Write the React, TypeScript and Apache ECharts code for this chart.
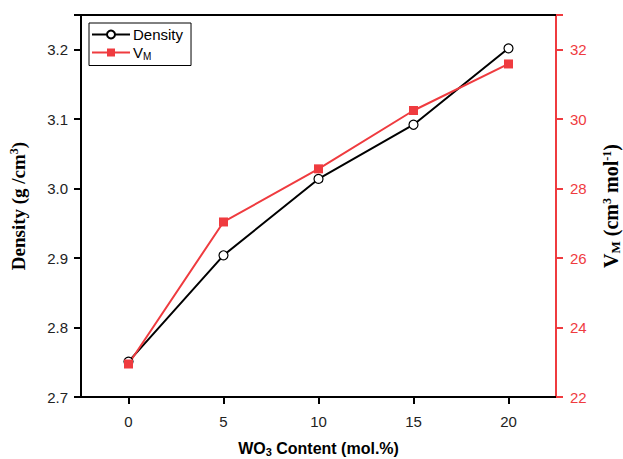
import React, { useEffect, useRef } from "react";
import * as echarts from "echarts";

// WO3 content (mol.%)
const woContent = [0, 5, 10, 15, 20];
// Density (g/cm3)
const density = [2.751, 2.904, 3.014, 3.092, 3.202];
// Molar volume V_M (cm3 mol-1)
const molarVolume = [22.95, 27.04, 28.57, 30.25, 31.59];
// Tick values shown on the bottom axis
const xTicks = [0, 5, 10, 15, 20];

const RED = "#ef3b3f";
const BLACK = "#000";

export default function App() {
  const ref = useRef<HTMLDivElement>(null);

  useEffect(() => {
    if (!ref.current) return;
    const chart = echarts.init(ref.current, undefined, { renderer: "svg" });

    const serif = "'Liberation Serif', 'Times New Roman', serif";
    const sans = "'Liberation Sans', Arial, sans-serif";

    chart.setOption({
      animation: false,
      backgroundColor: "#fff",
      grid: { left: 81, right: 67, top: 15, bottom: 62, containLabel: false, outerBoundsMode: "none" },
      legend: {
        orient: "vertical",
        left: 89,
        top: 23,
        itemWidth: 38,
        itemHeight: 10,
        itemGap: 3,
        padding: [4, 8, 4, 2],
        borderColor: "#000",
        borderWidth: 1,
        borderRadius: 0,
        data: ["Density", "VM"],
        formatter: (name: string) => (name === "VM" ? "{n|V}{s|M}" : "{n|" + name + "}"),
        textStyle: {
          fontFamily: sans,
          fontSize: 15,
          color: "#000",
          padding: [0, 0, 0, -2],
          rich: {
            n: { fontFamily: sans, fontSize: 15, color: "#000", lineHeight: 18 },
            s: { fontFamily: sans, fontSize: 10, color: "#000", verticalAlign: "bottom", lineHeight: 18, padding: [6, 0, 0, 0] },
          },
        },
      },
      xAxis: [
        {
          type: "value",
          min: -2.5,
          max: 22.5,
          position: "bottom",
          name: "{b|WO}{s|3}{b| Content (mol.%)}",
          nameLocation: "middle",
          nameGap: 41,
          nameTextStyle: {
            rich: {
              b: { fontFamily: sans, fontWeight: "bold", fontSize: 16, color: "#000", lineHeight: 20 },
              s: { fontFamily: sans, fontWeight: "bold", fontSize: 11, color: "#000", lineHeight: 18, padding: [8, 0, 0, 0] },
            },
          },
          axisLine: { onZero: false, lineStyle: { color: BLACK, width: 2 } },
          axisTick: { show: true, length: 7, customValues: xTicks, lineStyle: { color: BLACK, width: 2 } },
          axisLabel: {
            fontFamily: sans,
            fontSize: 15,
            color: "#222",
            margin: 17,
            customValues: xTicks,
          },
          splitLine: { show: false },
        },
        {
          type: "value",
          min: -2.5,
          max: 22.5,
          position: "top",
          axisLine: { onZero: false, lineStyle: { color: BLACK, width: 2 } },
          axisTick: { show: false },
          axisLabel: { show: false },
          splitLine: { show: false },
        },
      ],
      yAxis: [
        {
          type: "value",
          min: 2.7,
          max: 3.25,
          interval: 0.1,
          position: "left",
          name: "{b|Density (g /cm}{p|3}{b|)}",
          nameLocation: "middle",
          nameGap: 51,
          nameRotate: 90,
          nameTextStyle: {
            rich: {
              b: { fontFamily: serif, fontWeight: "bold", fontSize: 19, color: "#000", lineHeight: 23 },
              p: { fontFamily: serif, fontWeight: "bold", fontSize: 12, color: "#000", lineHeight: 23, padding: [0, 0, 9, 0] },
            },
          },
          axisLine: { show: true, onZero: false, lineStyle: { color: BLACK, width: 2 } },
          axisTick: { show: true, length: 7, lineStyle: { color: BLACK, width: 2 } },
          axisLabel: {
            fontFamily: sans,
            fontSize: 15,
            color: "#222",
            margin: 13,
            formatter: (v: number) => (v > 3.21 ? "" : v.toFixed(1)),
          },
          splitLine: { show: false },
        },
        {
          type: "value",
          min: 22,
          max: 33,
          interval: 2,
          position: "right",
          name: "{b|V}{s|M}{b| (cm}{p|3}{b| mol}{p|-1}{b|)}",
          nameLocation: "middle",
          nameGap: 43,
          nameRotate: 90,
          nameTextStyle: {
            rich: {
              b: { fontFamily: serif, fontWeight: "bold", fontSize: 20, color: "#000", lineHeight: 24 },
              s: { fontFamily: serif, fontWeight: "bold", fontSize: 13, color: "#000", lineHeight: 24, padding: [9, 0, 0, 0] },
              p: { fontFamily: serif, fontWeight: "bold", fontSize: 12, color: "#000", lineHeight: 24, padding: [0, 0, 9, 0] },
            },
          },
          axisLine: { show: true, onZero: false, lineStyle: { color: RED, width: 2 } },
          axisTick: { show: true, length: 7, lineStyle: { color: RED, width: 2 } },
          axisLabel: {
            fontFamily: sans,
            fontSize: 15,
            color: RED,
            margin: 14,
            formatter: (v: number) => (v > 32.5 ? "" : String(v)),
          },
          splitLine: { show: false },
        },
      ],
      series: [
        {
          name: "Density",
          type: "line",
          xAxisIndex: 0,
          yAxisIndex: 0,
          data: woContent.map((x, i) => [x, density[i]]),
          symbol: "circle",
          symbolSize: 9,
          lineStyle: { color: BLACK, width: 2 },
          itemStyle: { color: "#fff", borderColor: BLACK, borderWidth: 1.2 },
        },
        {
          name: "VM",
          type: "line",
          xAxisIndex: 0,
          yAxisIndex: 1,
          data: woContent.map((x, i) => [x, molarVolume[i]]),
          symbol: "rect",
          symbolSize: 9,
          lineStyle: { color: RED, width: 2 },
          itemStyle: { color: RED },
        },
      ],
    });

    return () => chart.dispose();
  }, []);

  return <div ref={ref} style={{ width: 623, height: 459, position: "absolute", left: 0, top: 0 }} />;
}
